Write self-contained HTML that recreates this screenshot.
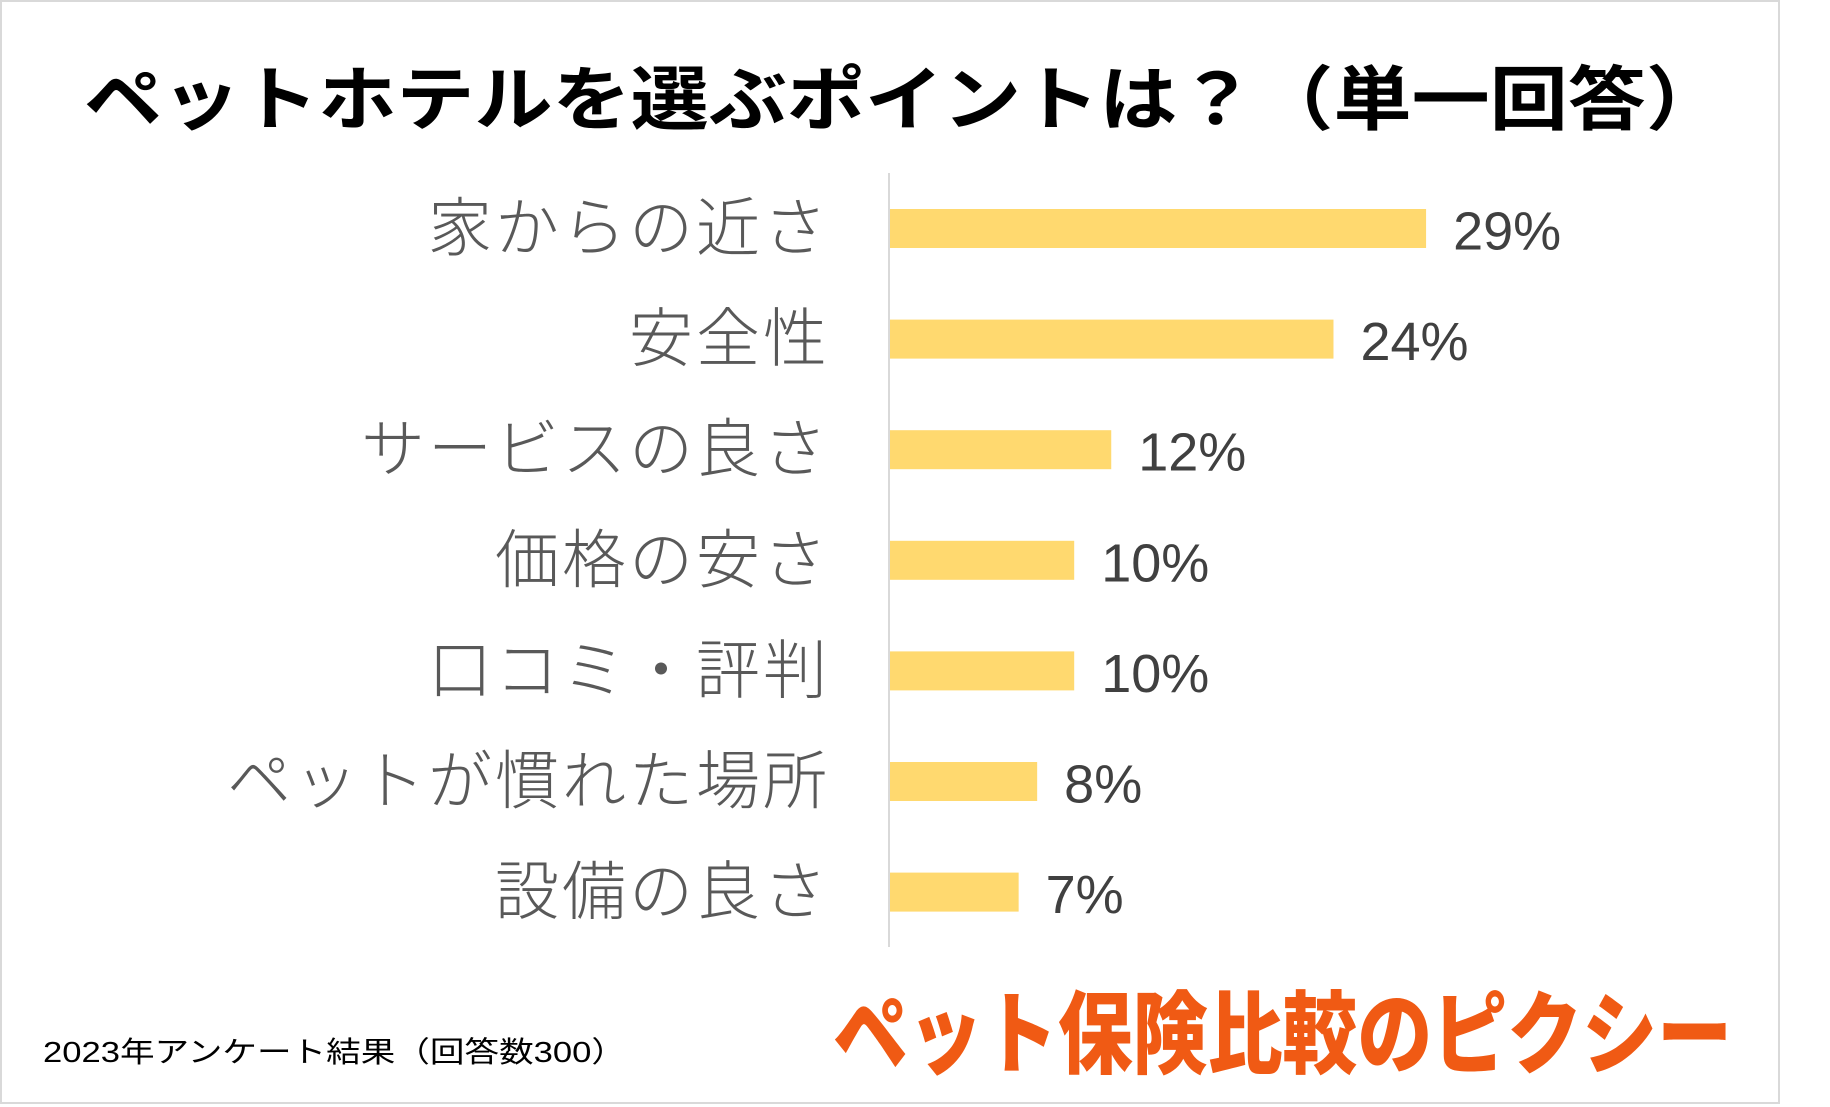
<!DOCTYPE html>
<html><head><meta charset="utf-8"><style>
html,body{margin:0;padding:0;background:#fff;}
svg{display:block;}
text{font-family:"Liberation Sans","Noto Sans CJK JP",sans-serif;}
</style></head><body>
<svg id="chart" width="1830" height="1107" viewBox="0 0 1830 1107" xmlns="http://www.w3.org/2000/svg">
<rect x="1" y="1" width="1778" height="1102" fill="#fff" stroke="#d9d9d9" stroke-width="2"/>
<text x="84" y="124" font-size="70" font-weight="bold" fill="#000" textLength="1640" lengthAdjust="spacingAndGlyphs">ペットホテルを選ぶポイントは？（単一回答）</text>
<g id="bars"></g>
<line x1="889" y1="173" x2="889" y2="947" stroke="#d9d9d9" stroke-width="2"/>
<text x="43" y="1062" font-size="29" fill="#000" textLength="583" lengthAdjust="spacingAndGlyphs">2023年アンケート結果（回答数300）</text>
<text x="833" y="1066" font-size="90" font-weight="900" fill="#f05a14" textLength="899" lengthAdjust="spacingAndGlyphs" style="font-family:'Noto Sans CJK JP',sans-serif">ペット保険比較のピクシー</text>
</svg>
<script>
const categories = ["家からの近さ","安全性","サービスの良さ","価格の安さ","口コミ・評判","ペットが慣れた場所","設備の良さ"];
const values = [29,24,12,10,10,8,7];
const valueLabels = ["29%","24%","12%","10%","10%","8%","7%"];

const NS = "http://www.w3.org/2000/svg";
const x0 = 889, pxPer = 18.52;
const xScale = v => x0 + v * pxPer;
const yCenter = i => 228.5 + i * 110.6;
const barH = 39;
const g = document.getElementById('bars');
categories.forEach((c, i) => {
  const cy = yCenter(i);
  const r = document.createElementNS(NS, 'rect');
  
  
  r.setAttribute('x', x0);
  r.setAttribute('y', cy - barH / 2);
  r.setAttribute('width', xScale(values[i]) - x0);
  r.setAttribute('height', barH);
  r.setAttribute('fill', '#ffd96f');
  g.appendChild(r);

  const lab = document.createElementNS(NS, 'text');
  
  
  lab.setAttribute('x', 830);
  lab.setAttribute('y', cy + 22);
  lab.setAttribute('text-anchor', 'end');
  lab.setAttribute('font-size', '64');
  lab.setAttribute('font-weight', '300');
  lab.setAttribute('letter-spacing', '3');
  lab.setAttribute('fill', '#595959');
  lab.textContent = c;
  g.appendChild(lab);

  const vl = document.createElementNS(NS, 'text');
  
  
  vl.setAttribute('x', xScale(values[i]) + 27);
  vl.setAttribute('y', cy + 21);
  vl.setAttribute('font-size', '54');
  vl.setAttribute('fill', '#404040');
  vl.textContent = valueLabels[i];
  g.appendChild(vl);
});
</script>
</body></html>
